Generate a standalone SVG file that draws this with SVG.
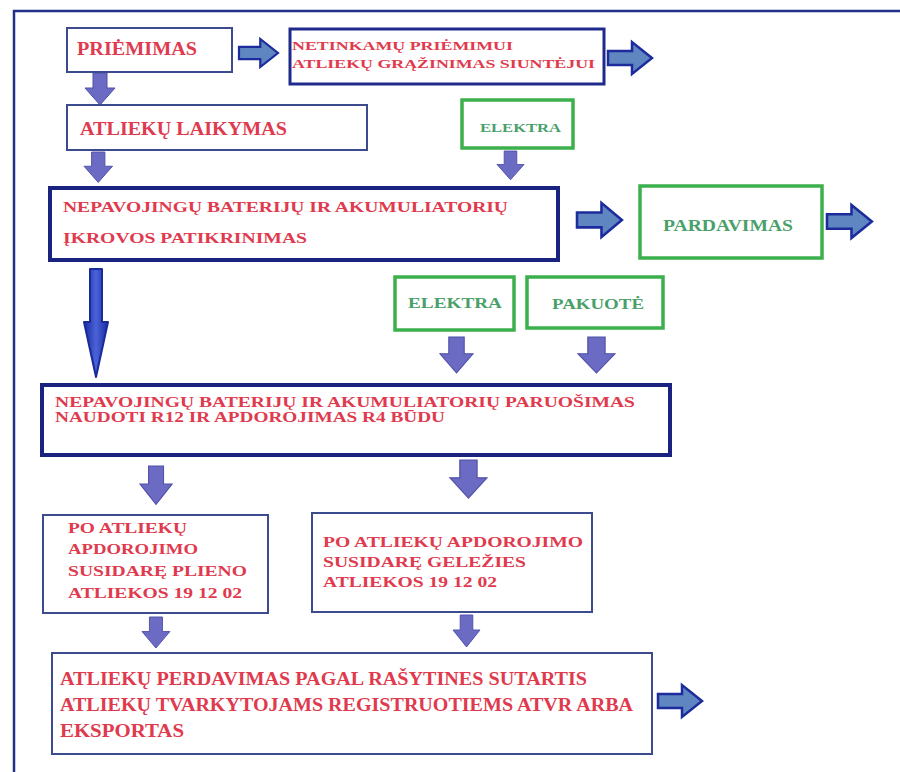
<svg xmlns="http://www.w3.org/2000/svg" width="900" height="772" viewBox="0 0 900 772">
<style>
.bx{fill:#fff;stroke:#3c4a8e;stroke-width:2}
.nv{fill:#fff;stroke:#1a2380;stroke-width:4}
.nt{fill:#fff;stroke:#1f2a8c;stroke-width:3}
.gr{fill:#fff;stroke:#3cb04c;stroke-width:3.5}
.r{fill:#e03a4e;font-family:"Liberation Serif",serif;font-weight:bold}
.g{fill:#4aa06a;font-family:"Liberation Serif",serif;font-weight:bold}
.ha{fill:#5f86c0;stroke:#1c2c9c;stroke-width:2.5;stroke-linejoin:miter}
.dn{fill:#6b6bc4;stroke:#5050aa;stroke-width:1}
</style>
<defs>
<path id="ra" d="M0,9 H24 V0 L44,16 L24,32 V23 H0 Z"/>
<path id="da" d="M8,0 H22 V15 H30 L15,32 L0,15 H8 Z"/>
<linearGradient id="bg" x1="0" y1="0" x2="1" y2="0">
<stop offset="0" stop-color="#1a2aa0"/><stop offset="0.5" stop-color="#4a63d8"/><stop offset="1" stop-color="#1a2aa0"/>
</linearGradient>
</defs>
<rect width="900" height="772" fill="#fff"/>
<path d="M14,772 V11 H900" fill="none" stroke="#23308a" stroke-width="2.5"/>

<g id="connectors">
<use href="#ra" class="ha" transform="translate(239,39) scale(0.886,0.875)"/>
<use href="#ra" class="ha" transform="translate(608,42)"/>
<use href="#ra" class="ha" transform="translate(577,203) scale(1.02,1.06)"/>
<use href="#ra" class="ha" transform="translate(827,205) scale(1.02,1.03)"/>
<use href="#ra" class="ha" transform="translate(658,685)"/>
<use href="#da" class="dn" transform="translate(85,73)"/>
<use href="#da" class="dn" transform="translate(84,152) scale(0.95,0.95)"/>
<use href="#da" class="dn" transform="translate(497,151) scale(0.9,0.9)"/>
<use href="#da" class="dn" transform="translate(440,337) scale(1.1,1.12)"/>
<use href="#da" class="dn" transform="translate(578,337) scale(1.23,1.12)"/>
<use href="#da" class="dn" transform="translate(140,466) scale(1.07,1.2)"/>
<use href="#da" class="dn" transform="translate(450,460) scale(1.23,1.19)"/>
<use href="#da" class="dn" transform="translate(142,617) scale(0.93,0.97)"/>
<use href="#da" class="dn" transform="translate(453,615) scale(0.9,1)"/>
<path d="M90,269 H102 V322 L108,322 L96,377 L84,322 L90,322 Z" fill="url(#bg)" stroke="#1a2a9a" stroke-width="2" stroke-linejoin="round"/>
</g>

<g id="priemimas">
<rect class="bx" x="67" y="28" width="165" height="44"/>
<text class="r" x="77" y="55" font-size="18" textLength="120" lengthAdjust="spacingAndGlyphs">PRIĖMIMAS</text>
</g>
<g id="netinkamu">
<rect class="nt" x="290" y="29" width="314" height="55"/>
<text class="r" x="292" y="50" font-size="13" textLength="221" lengthAdjust="spacingAndGlyphs">NETINKAMŲ PRIĖMIMUI</text>
<text class="r" x="292" y="68" font-size="13" textLength="303" lengthAdjust="spacingAndGlyphs">ATLIEKŲ GRĄŽINIMAS SIUNTĖJUI</text>
</g>
<g id="laikymas">
<rect class="bx" x="67" y="105" width="300" height="45"/>
<text class="r" x="80" y="135" font-size="19" textLength="207" lengthAdjust="spacingAndGlyphs">ATLIEKŲ LAIKYMAS</text>
</g>
<g id="elektra1">
<rect class="gr" x="462" y="100" width="111" height="48" stroke-width="4"/>
<text class="g" x="480" y="132" font-size="13" textLength="81" lengthAdjust="spacingAndGlyphs">ELEKTRA</text>
</g>
<g id="patikrinimas">
<rect class="nv" x="50" y="188" width="508" height="72"/>
<text class="r" x="63" y="212" font-size="15" textLength="445" lengthAdjust="spacingAndGlyphs">NEPAVOJINGŲ BATERIJŲ IR AKUMULIATORIŲ</text>
<text class="r" x="63" y="243" font-size="15" textLength="244" lengthAdjust="spacingAndGlyphs">ĮKROVOS PATIKRINIMAS</text>
</g>
<g id="pardavimas">
<rect class="gr" x="640" y="186" width="182" height="72" stroke-width="4"/>
<text class="g" x="663" y="231" font-size="16" textLength="130" lengthAdjust="spacingAndGlyphs">PARDAVIMAS</text>
</g>
<g id="elektra2">
<rect class="gr" x="395" y="277" width="119" height="53"/>
<text class="g" x="408" y="308" font-size="15" textLength="94" lengthAdjust="spacingAndGlyphs">ELEKTRA</text>
</g>
<g id="pakuote">
<rect class="gr" x="527" y="277" width="136" height="51"/>
<text class="g" x="552" y="309" font-size="15" textLength="92" lengthAdjust="spacingAndGlyphs">PAKUOTĖ</text>
</g>
<g id="paruosimas">
<rect class="nv" x="42" y="385" width="628" height="70"/>
<text class="r" x="55" y="407" font-size="15" textLength="580" lengthAdjust="spacingAndGlyphs">NEPAVOJINGŲ BATERIJŲ IR AKUMULIATORIŲ PARUOŠIMAS</text>
<text class="r" x="55" y="422" font-size="15" textLength="390" lengthAdjust="spacingAndGlyphs">NAUDOTI R12 IR APDOROJIMAS R4 BŪDU</text>
</g>
<g id="plieno">
<rect class="bx" x="43" y="515" width="225" height="98"/>
<text class="r" x="68" y="533" font-size="15" textLength="119" lengthAdjust="spacingAndGlyphs">PO ATLIEKŲ</text>
<text class="r" x="68" y="554" font-size="15" textLength="130" lengthAdjust="spacingAndGlyphs">APDOROJIMO</text>
<text class="r" x="68" y="576" font-size="15" textLength="179" lengthAdjust="spacingAndGlyphs">SUSIDARĘ PLIENO</text>
<text class="r" x="68" y="598" font-size="15" textLength="174" lengthAdjust="spacingAndGlyphs">ATLIEKOS 19 12 02</text>
</g>
<g id="gelezies">
<rect class="bx" x="312" y="513" width="280" height="99"/>
<text class="r" x="323" y="547" font-size="15" textLength="260" lengthAdjust="spacingAndGlyphs">PO ATLIEKŲ APDOROJIMO</text>
<text class="r" x="323" y="567" font-size="15" textLength="203" lengthAdjust="spacingAndGlyphs">SUSIDARĘ GELEŽIES</text>
<text class="r" x="323" y="587" font-size="15" textLength="174" lengthAdjust="spacingAndGlyphs">ATLIEKOS 19 12 02</text>
</g>
<g id="perdavimas">
<rect class="bx" x="52" y="653" width="600" height="101"/>
<text class="r" x="60" y="685" font-size="19" textLength="527" lengthAdjust="spacingAndGlyphs">ATLIEKŲ PERDAVIMAS PAGAL RAŠYTINES SUTARTIS</text>
<text class="r" x="60" y="711" font-size="19" textLength="573" lengthAdjust="spacingAndGlyphs">ATLIEKŲ TVARKYTOJAMS REGISTRUOTIEMS ATVR ARBA</text>
<text class="r" x="60" y="737" font-size="19" textLength="124" lengthAdjust="spacingAndGlyphs">EKSPORTAS</text>
</g>
</svg>
